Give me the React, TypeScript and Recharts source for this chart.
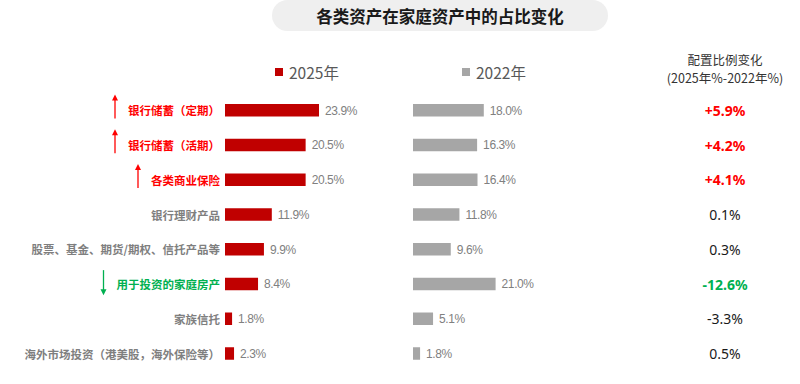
import React from "react";
import { BarChart, Bar, XAxis, YAxis, LabelList } from "recharts";

const CATEGORIES = [
  "银行储蓄（定期）",
  "银行储蓄（活期）",
  "各类商业保险",
  "银行理财产品",
  "股票、基金、期货/期权、信托产品等",
  "用于投资的家庭房产",
  "家族信托",
  "海外市场投资（港美股，海外保险等）",
];
const SHARE_2025 = [23.9, 20.5, 20.5, 11.9, 9.9, 8.4, 1.8, 2.3];
const SHARE_2022 = [18.0, 16.3, 16.4, 11.8, 9.6, 21.0, 5.1, 1.8];
// highlighted rows: "up" red, "down" green
const TRENDS = ["up", "up", "up", null, null, "down", null, null];

const TITLE = "各类资产在家庭资产中的占比变化";
const LEGEND_2025 = "2025年";
const LEGEND_2022 = "2022年";
const DIFF_HEADER = ["配置比例变化", "(2025年%-2022年%)"];

const RED = "#c00000";
const GRAY = "#a6a6a6";
const UP = "#ff0000";
const DOWN = "#00b050";

const data = CATEGORIES.map((name, i) => ({
  name,
  v2025: SHARE_2025[i],
  v2022: SHARE_2022[i],
  diff: Math.round((SHARE_2025[i] - SHARE_2022[i]) * 10) / 10,
  trend: TRENDS[i],
}));

const CJK = "'Noto Sans CJK SC', 'Noto Sans', sans-serif";
const NUM = "'Liberation Sans Narrow', 'Liberation Sans', Arial, sans-serif";

const LABEL_SIZE = 11.5;
const PLOT_TOP = 93;
const PLOT_BOTTOM = 13;
const SCALE_MAX = 30;
const PLOT_W = 118;

function textWidth(s: string, size: number) {
  let w = 0;
  for (const ch of s) w += ch.charCodeAt(0) > 255 ? size : size * 0.5;
  return w;
}

const CategoryTick = (props: any) => {
  const { y, payload } = props;
  const i = CATEGORIES.indexOf(payload.value);
  const trend = TRENDS[i];
  const color = trend === "up" ? UP : trend === "down" ? DOWN : "#7f7f7f";
  const right = 220;
  const ax = right - textWidth(payload.value, LABEL_SIZE) - 13;
  return (
    <g>
      <text
        x={right}
        y={y}
        textAnchor="end"
        dominantBaseline="central"
        fill={color}
        fontSize={LABEL_SIZE}
        fontWeight={700}
        fontFamily={CJK}
      >
        {payload.value}
      </text>
      {trend === "up" && (
        <g>
          <line x1={ax} x2={ax} y1={y - 11} y2={y + 8} stroke={UP} strokeWidth={1.3} />
          <polygon points={`${ax - 3},${y - 10} ${ax + 3},${y - 10} ${ax},${y - 16}`} fill={UP} />
        </g>
      )}
      {trend === "down" && (
        <g>
          <line x1={ax} x2={ax} y1={y - 14} y2={y + 6} stroke={DOWN} strokeWidth={1.3} />
          <polygon points={`${ax - 3},${y + 5} ${ax + 3},${y + 5} ${ax},${y + 11}`} fill={DOWN} />
        </g>
      )}
    </g>
  );
};

const DiffTick = (props: any) => {
  const { y, payload } = props;
  const row = data.find((d) => d.name === payload.value);
  if (!row) return null;
  const txt = (row.trend === "up" ? "+" : "") + row.diff.toFixed(1) + "%";
  const color = row.trend === "up" ? UP : row.trend === "down" ? DOWN : "#1a1a1a";
  return (
    <text
      x={312}
      y={y}
      textAnchor="middle"
      dominantBaseline="central"
      fill={color}
      fontSize={14}
      fontWeight={row.trend ? 700 : 400}
      fontFamily="'Noto Sans', sans-serif"
    >
      {txt}
    </text>
  );
};

const pct = (v: any) => `${Number(v).toFixed(1)}%`;

const valueStyle = { fill: "#808080", fontSize: 12, fontFamily: NUM, letterSpacing: -0.4 };

const legendItem = (left: number, color: string, label: string) => (
  <div
    style={{
      position: "absolute",
      left,
      top: 61,
      display: "flex",
      alignItems: "center",
      fontFamily: CJK,
      fontSize: 15.5,
      color: "#595959",
    }}
  >
    <span style={{ display: "inline-block", width: 8, height: 8, background: color, marginRight: 6 }} />
    {label}
  </div>
);

export default function App() {
  return (
    <div
      style={{
        position: "absolute",
        left: 0,
        top: 0,
        width: 800,
        height: 384,
        background: "#fff",
        overflow: "hidden",
      }}
    >
      <div
        style={{
          position: "absolute",
          left: 272,
          top: 0,
          width: 336,
          height: 31,
          borderRadius: 16,
          background: "#efefef",
          display: "flex",
          alignItems: "center",
          justifyContent: "center",
          fontFamily: CJK,
          fontWeight: 700,
          fontSize: 16.5,
          color: "#1a1a1a",
        }}
      >
        {TITLE}
      </div>

      {legendItem(275, RED, LEGEND_2025)}
      {legendItem(462, GRAY, LEGEND_2022)}

      <div
        style={{
          position: "absolute",
          left: 640,
          top: 51,
          width: 170,
          textAlign: "center",
          fontFamily: CJK,
          fontSize: 12.5,
          lineHeight: "18px",
          color: "#333",
        }}
      >
        <div>{DIFF_HEADER[0]}</div>
        <div>{DIFF_HEADER[1]}</div>
      </div>

      <div style={{ position: "absolute", left: 0, top: 0 }}>
        <BarChart
          width={400}
          height={384}
          data={data}
          layout="vertical"
          margin={{ top: PLOT_TOP, bottom: PLOT_BOTTOM, left: 0, right: 400 - 225 - PLOT_W }}
        >
          <XAxis type="number" domain={[0, SCALE_MAX]} hide />
          <YAxis
            type="category"
            dataKey="name"
            width={225}
            axisLine={false}
            tickLine={false}
            interval={0}
            tick={<CategoryTick />}
          />
          <Bar dataKey="v2025" fill={RED} barSize={12.5} isAnimationActive={false}>
            <LabelList dataKey="v2025" position="right" offset={6} formatter={pct} style={valueStyle} />
          </Bar>
        </BarChart>
      </div>

      <div style={{ position: "absolute", left: 413, top: 0 }}>
        <BarChart
          width={387}
          height={384}
          data={data}
          layout="vertical"
          margin={{ top: PLOT_TOP, bottom: PLOT_BOTTOM, left: 0, right: 0 }}
        >
          <XAxis type="number" domain={[0, SCALE_MAX]} hide />
          <YAxis
            type="category"
            dataKey="name"
            orientation="right"
            width={387 - PLOT_W}
            axisLine={false}
            tickLine={false}
            interval={0}
            tick={<DiffTick />}
          />
          <Bar dataKey="v2022" fill={GRAY} barSize={12.5} isAnimationActive={false}>
            <LabelList dataKey="v2022" position="right" offset={6} formatter={pct} style={valueStyle} />
          </Bar>
        </BarChart>
      </div>
    </div>
  );
}
